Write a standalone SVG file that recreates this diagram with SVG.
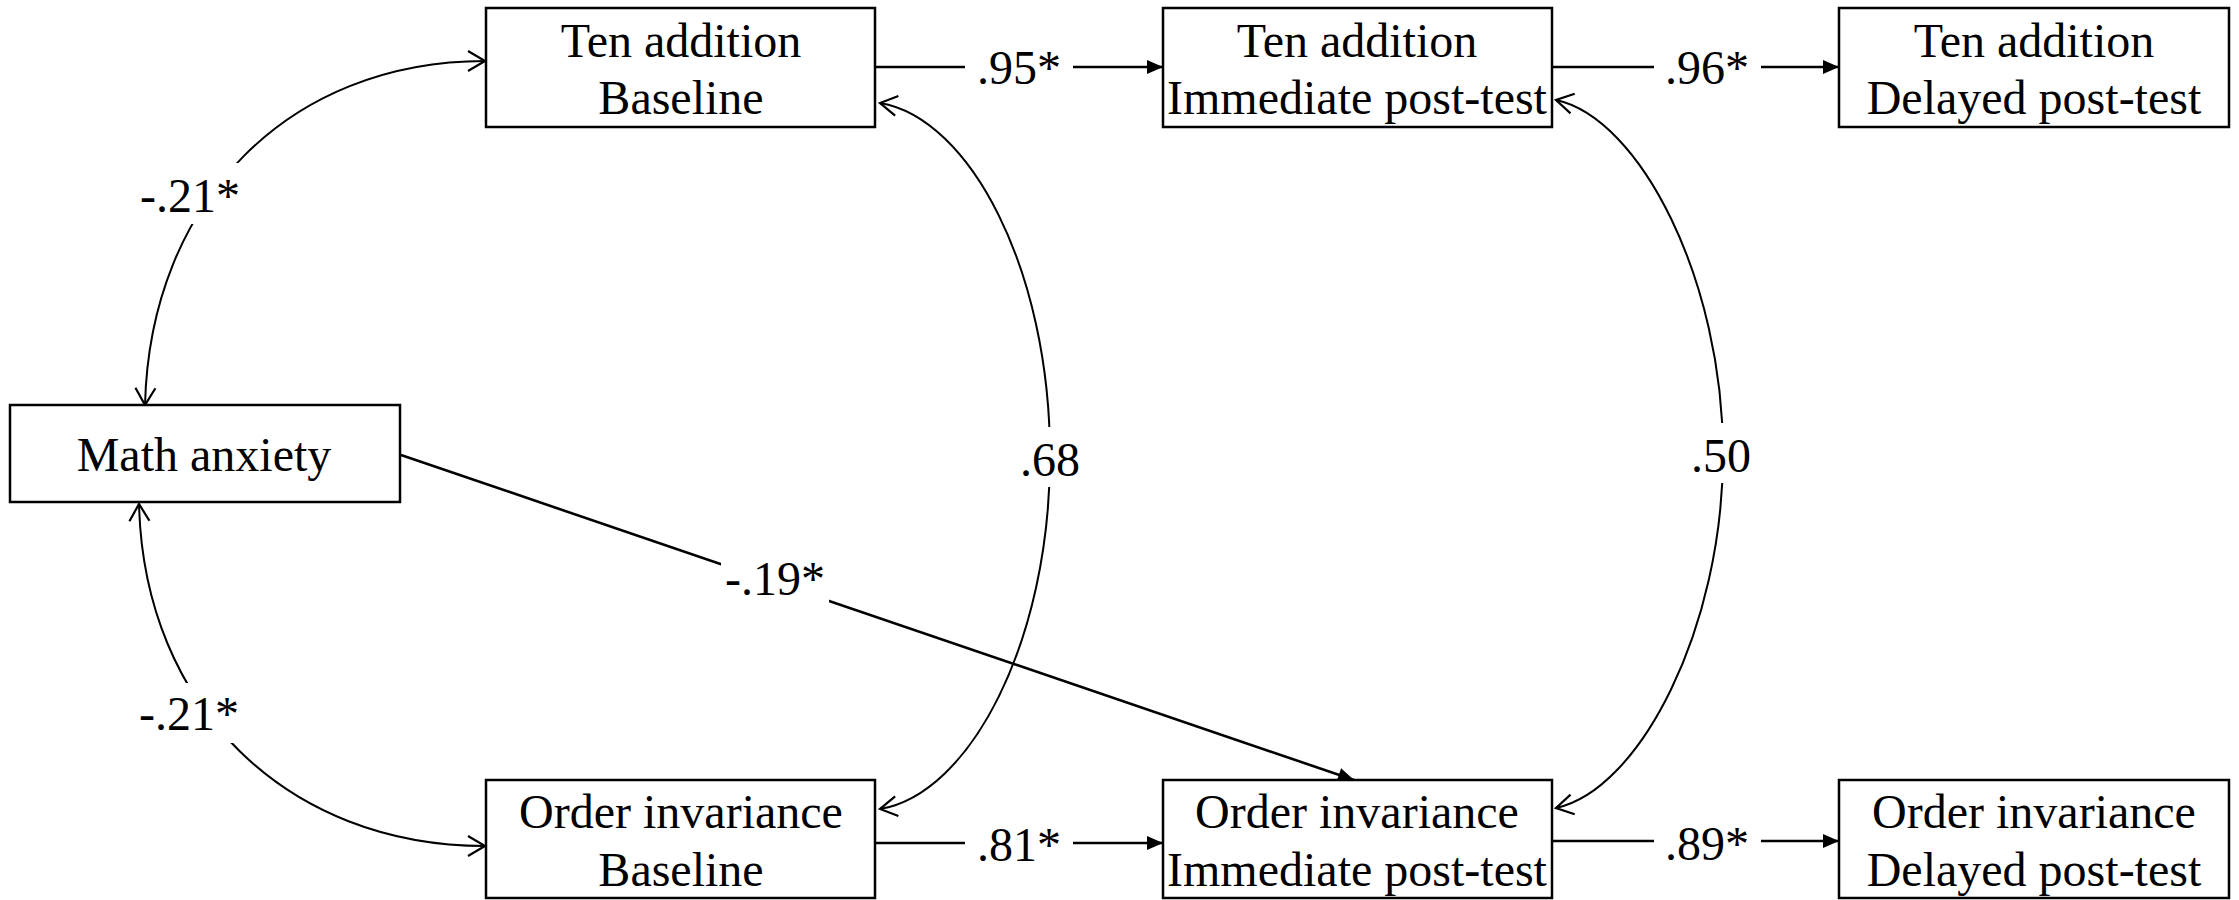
<svg xmlns="http://www.w3.org/2000/svg" width="2239" height="900" viewBox="0 0 2239 900">
<style>
  .box { fill: #fff; stroke: #000; stroke-width: 2.5; }
  .t { font-family: "Liberation Serif", "Times New Roman", serif; font-size: 48px; fill: #000; text-anchor: middle; }
  .path { fill: none; stroke: #000; stroke-width: 2.6; }
  .cov { fill: none; stroke: #000; stroke-width: 2; }
  .gap { fill: #fff; stroke: none; }
</style>
<defs>
  <marker id="solid" markerUnits="userSpaceOnUse" markerWidth="24" markerHeight="20" viewBox="-18 -10 20 20" refX="0" refY="0" orient="auto">
    <path d="M -16 -7 L 0 0 L -16 7 Z" fill="#000"/>
  </marker>
  <marker id="open" markerUnits="userSpaceOnUse" markerWidth="24" markerHeight="26" viewBox="-20 -13 22 26" refX="0" refY="0" orient="auto-start-reverse">
    <path d="M -17 -10 L 0 0 L -17 10" fill="none" stroke="#000" stroke-width="2.2"/>
  </marker>
</defs>

<g id="connectors">
  <line class="path" x1="875" y1="67" x2="1163" y2="67" marker-end="url(#solid)"/>
  <line class="path" x1="1552" y1="67" x2="1839" y2="67" marker-end="url(#solid)"/>
  <line class="path" x1="875" y1="843" x2="1163" y2="843" marker-end="url(#solid)"/>
  <line class="path" x1="1552" y1="841" x2="1839" y2="841" marker-end="url(#solid)"/>
  <line class="path" x1="401" y1="455" x2="1354" y2="780" marker-end="url(#solid)"/>
  <path class="cov" d="M 145 405 C 150 200 290 61 485 61" marker-start="url(#open)" marker-end="url(#open)"/>
  <path class="cov" d="M 139 504 C 144 708 288 846 485 846" marker-start="url(#open)" marker-end="url(#open)"/>
  <path class="cov" d="M 880 103 C 970 118 1050 270 1050 456 C 1050 642 970 794 880 809" marker-start="url(#open)" marker-end="url(#open)"/>
  <path class="cov" d="M 1556 100 C 1640 118 1723 280 1723 454 C 1723 628 1640 790 1556 808" marker-start="url(#open)" marker-end="url(#open)"/>
</g>

<g id="labels">
  <rect class="gap" x="965" y="40" width="108" height="55"/>
  <text class="t" x="1019" y="84">.95*</text>
  <rect class="gap" x="1654" y="40" width="107" height="55"/>
  <text class="t" x="1707" y="84">.96*</text>
  <rect class="gap" x="965" y="816" width="108" height="55"/>
  <text class="t" x="1019" y="861">.81*</text>
  <rect class="gap" x="1654" y="814" width="107" height="55"/>
  <text class="t" x="1707" y="860">.89*</text>
  <rect class="gap" x="721" y="552" width="108" height="55"/>
  <text class="t" x="775" y="595">-.19*</text>
  <rect class="gap" x="135" y="163" width="110" height="61"/>
  <text class="t" x="190" y="212">-.21*</text>
  <rect class="gap" x="135" y="683" width="110" height="60"/>
  <text class="t" x="189" y="730">-.21*</text>
  <rect class="gap" x="1015" y="427" width="70" height="60"/>
  <text class="t" x="1050" y="476">.68</text>
  <rect class="gap" x="1688" y="423" width="70" height="60"/>
  <text class="t" x="1721" y="472">.50</text>
</g>

<g id="node-ta-baseline">
  <rect class="box" x="486" y="8" width="389" height="119"/>
  <text class="t" x="681" y="57">Ten addition</text>
  <text class="t" x="681" y="114">Baseline</text>
</g>
<g id="node-ta-immediate">
  <rect class="box" x="1163" y="8" width="389" height="119"/>
  <text class="t" x="1357" y="57">Ten addition</text>
  <text class="t" x="1357" y="114">Immediate post-test</text>
</g>
<g id="node-ta-delayed">
  <rect class="box" x="1839" y="8" width="390" height="119"/>
  <text class="t" x="2034" y="57">Ten addition</text>
  <text class="t" x="2034" y="114">Delayed post-test</text>
</g>
<g id="node-math-anxiety">
  <rect class="box" x="10" y="405" width="390" height="97"/>
  <text class="t" x="204" y="471">Math anxiety</text>
</g>
<g id="node-oi-baseline">
  <rect class="box" x="486" y="780" width="389" height="118"/>
  <text class="t" x="681" y="828">Order invariance</text>
  <text class="t" x="681" y="886">Baseline</text>
</g>
<g id="node-oi-immediate">
  <rect class="box" x="1163" y="780" width="389" height="118"/>
  <text class="t" x="1357" y="828">Order invariance</text>
  <text class="t" x="1357" y="886">Immediate post-test</text>
</g>
<g id="node-oi-delayed">
  <rect class="box" x="1839" y="780" width="390" height="118"/>
  <text class="t" x="2034" y="828">Order invariance</text>
  <text class="t" x="2034" y="886">Delayed post-test</text>
</g>
</svg>
